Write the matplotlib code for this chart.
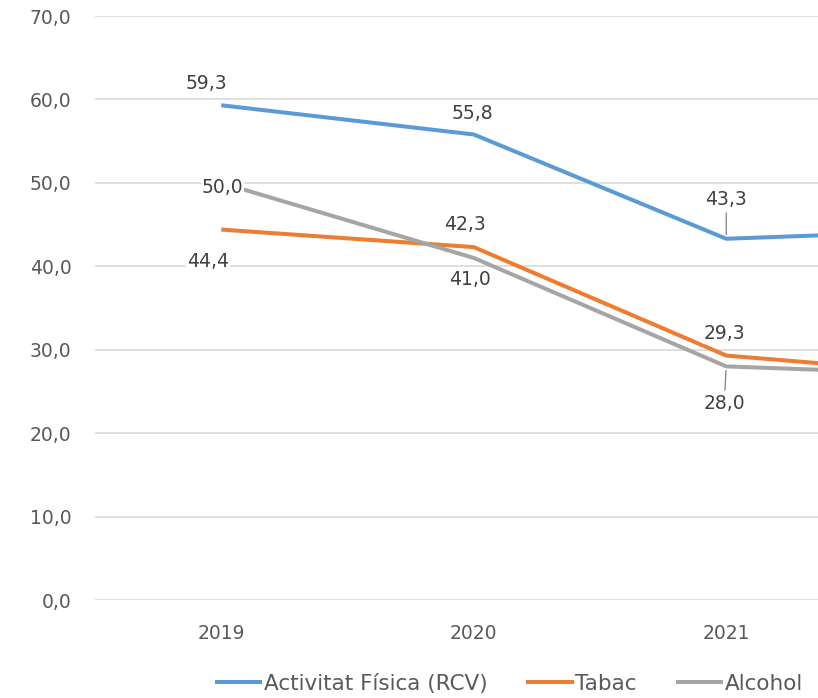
import matplotlib.pyplot as plt

years = ['2019', '2020', '2021', '2022']
activitat = [59.3, 55.8, 43.3, 44.4]
tabac = [44.4, 42.3, 29.3, 26.8]
alcohol = [50.0, 41.0, 28.0, 26.9]

# label offsets in pixels (dx, dy up) and whether a leader line is drawn
offsets_act = [(-15, 22, False), (-1, 21, False), (0, 39, True)]
offsets_tab = [(-13, -32, False), (-9, 23, False), (-2, 22, False)]
offsets_alc = [(1, -5, False), (-4, -22, False), (-2, -37, True)]

plt.rcParams['font.family'] = ['DejaVu Sans']
text_color = '#595959'
fs = 13.5

fig = plt.figure(figsize=(8.18, 6.98), dpi=100)
# the original chart is cropped on the right, so the axes run past the figure edge
ax = fig.add_axes([95 / 818, 98 / 698, 1010 / 818, 584 / 698])

x = list(range(len(years)))
series = [
    (activitat, '#5B9BD5', 'Activitat Física (RCV)', offsets_act),
    (tabac, '#ED7D31', 'Tabac', offsets_tab),
    (alcohol, '#A5A5A5', 'Alcohol', offsets_alc),
]

handles = []
for vals, color, name, offs in series:
    h, = ax.plot(x, vals, color=color, lw=2.9, label=name, zorder=3,
                 solid_joinstyle='round', solid_capstyle='butt')
    handles.append(h)

for vals, color, name, offs in series:
    for i, (dx, dy, leader) in enumerate(offs):
        label = f'{vals[i]:.1f}'.replace('.', ',')
        arrow = None
        if leader:
            arrow = dict(arrowstyle='-', color='#7F7F7F', lw=0.9,
                         shrinkA=2, shrinkB=3)
        ax.annotate(label, (x[i], vals[i]), xytext=(dx, dy),
                    textcoords='offset pixels', ha='center', va='center',
                    fontsize=fs, color='#404040', zorder=5,
                    bbox=dict(boxstyle='square,pad=0.05', fc='white', ec='none'),
                    arrowprops=arrow)

ax.set_xlim(-0.5, len(years) - 0.5)
ax.set_ylim(0, 70)
ax.set_yticks(range(0, 71, 10))
ax.set_yticklabels([f'{v:.1f}'.replace('.', ',') for v in range(0, 71, 10)])
# the last year falls outside the visible crop
ax.set_xticks(x[:3])
ax.set_xticklabels(years[:3])
ax.tick_params(length=0, labelsize=fs, labelcolor=text_color)
ax.tick_params(axis='y', pad=17)
ax.tick_params(axis='x', pad=17)
ax.grid(axis='y', color='#D9D9D9', lw=1.2)
ax.set_axisbelow(True)
for s in ax.spines.values():
    s.set_visible(False)

fig.legend(handles=handles, loc='center', bbox_to_anchor=(509 / 818, 14 / 698),
           ncol=3, frameon=False, fontsize=15.5, labelcolor=text_color,
           handlelength=2.2, handletextpad=0.08, columnspacing=1.8)

fig.savefig('out.png', dpi=100)
